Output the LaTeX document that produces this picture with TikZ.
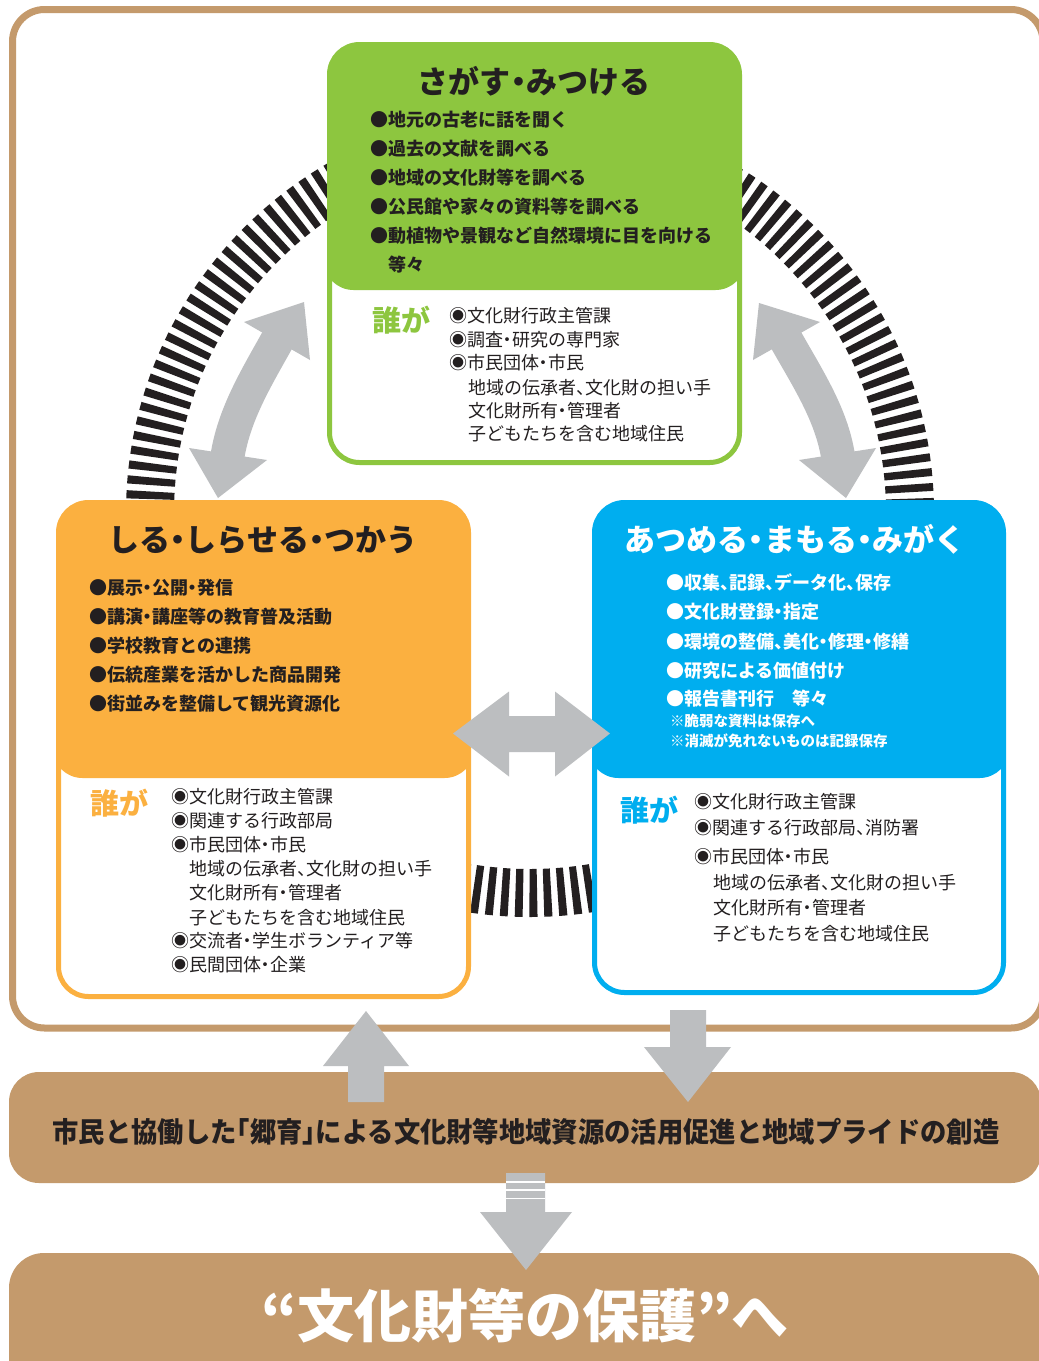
\documentclass[tikz,border=0pt]{standalone}
\usepackage{fontspec}
\newfontfamily\jp{Noto Sans CJK JP}
\newfontfamily\jph[RawFeature=+halt]{Noto Sans CJK JP}
\usetikzlibrary{calc}
\definecolor{cgreen}{HTML}{8DC63F}
\definecolor{corange}{HTML}{FBB040}
\definecolor{cblue}{HTML}{00AEEF}
\definecolor{ctan}{HTML}{C49A6C}
\definecolor{cgray}{HTML}{BCBEC0}
\definecolor{cink}{HTML}{231F20}
\begin{document}
\begin{tikzpicture}[x=1pt,y=-1pt,
  panel/.style={line width=5pt, rounded corners=30pt, fill=white, inner sep=0pt, outer sep=0pt},
  band/.style={fill=ctan, inner sep=0pt, outer sep=0pt},
  ttl/.style={font=\jph\bfseries\fontsize{31}{31}\selectfont, anchor=base, inner sep=0pt, text height=26pt, text depth=4pt},
  bul/.style={font=\jph\bfseries\fontsize{18}{18}\selectfont, anchor=base west, inner sep=0pt, text=cink, text height=15pt, text depth=3pt},
  lst/.style={font=\jph\fontsize{18}{18}\selectfont, anchor=base west, inner sep=0pt, text=cink, text height=15pt, text depth=3pt},
  who/.style={font=\jp\bfseries\fontsize{29}{29}\selectfont, anchor=base west, inner sep=0pt, text height=25pt, text depth=3pt},
  note/.style={font=\jph\bfseries\fontsize{14.5}{14.5}\selectfont, anchor=base west, inner sep=0pt, text=white, text height=12pt, text depth=2pt},
  garrow/.style={fill=cgray},
  gshaft/.style={draw=cgray, line width=34pt},
]
\useasboundingbox (0,0) rectangle (1039,1361);
\fill[white] (0,0) rectangle (1039,1361);

% outer frame
\draw[ctan, line width=7pt, rounded corners=32pt] (12.5,9.5) rectangle (1043,1028);

% dashed ring
\coordinate (O) at (530,513);
\draw[cink, line width=48pt, dash pattern=on 7.6pt off 6.445pt] (O) circle[radius=380];

% bands
\node[band, rounded corners=30pt, minimum width=1032pt, minimum height=111pt] (band1) at (525,1127.5) {};
\node[band, rounded corners=35pt, minimum width=1032pt, minimum height=160pt] (band2) at (525,1333) {};

% panels
\node[panel, draw=cgreen, minimum width=410pt, minimum height=418pt,
  path picture={\fill[cgreen] ([xshift=-6pt,yshift=6pt]path picture bounding box.north west) rectangle ([xshift=6pt,yshift=-245.5pt]path picture bounding box.north east);}] (search) at (534.5,253.5) {};
\node[panel, draw=corange, minimum width=410pt, minimum height=494pt,
  path picture={\fill[corange] ([xshift=-6pt,yshift=6pt]path picture bounding box.north west) rectangle ([xshift=6pt,yshift=-275.5pt]path picture bounding box.north east);}] (know) at (263.5,749.5) {};
\node[panel, draw=cblue, minimum width=409pt, minimum height=490pt,
  path picture={\fill[cblue] ([xshift=-6pt,yshift=6pt]path picture bounding box.north west) rectangle ([xshift=6pt,yshift=-275.5pt]path picture bounding box.north east);}] (keep) at (799,747.5) {};

% curved double arrow left
\coordinate (lt) at (304,302); \coordinate (lta) at (244,322); \coordinate (ltb) at (310,360);
\coordinate (lb) at (218,498); \coordinate (lba) at (189,448); \coordinate (lbb) at (267,460);
\fill[garrow] (lt) -- (lta) -- (ltb) -- cycle;
\fill[garrow] (lb) -- (lba) -- (lbb) -- cycle;
\draw[gshaft] (278,339) .. controls (257,376.7) and (234.3,413.5) .. (227.5,456);

% curved double arrow right
\coordinate (rt) at (759,303); \coordinate (rta) at (753,360); \coordinate (rtb) at (820,322);
\coordinate (rb) at (846,498); \coordinate (rba) at (799,460); \coordinate (rbb) at (876,448);
\fill[garrow] (rt) -- (rta) -- (rtb) -- cycle;
\fill[garrow] (rb) -- (rba) -- (rbb) -- cycle;
\draw[gshaft] (785.5,339) .. controls (806.6,376.7) and (831.2,413.5) .. (838,456);

% horizontal double arrow
\coordinate (hl) at (453,733.5); \coordinate (hr) at (610,733.5);
\fill[garrow] (hl) -- (509,691.5) -- (509,716) -- (555,716) -- (555,691.5) -- (hr)
  -- (555,776.5) -- (555,752) -- (509,752) -- (509,776.5) -- cycle;

% up arrow
\coordinate (ut) at (366,1011);
\fill[garrow] (ut) -- (409,1066) -- (384,1066) -- (384,1102) -- (348,1102) -- (348,1066) -- (323,1066) -- cycle;
% down arrow
\coordinate (dt) at (688,1102);
\fill[garrow] (670,1010) -- (706,1010) -- (706,1047) -- (731,1047) -- (dt) -- (644,1047) -- (670,1047) -- cycle;
% bottom arrow
\coordinate (bt) at (526,1270);
\fill[garrow] (506,1173) -- (545,1173) -- (545,1212) -- (572,1212) -- (bt) -- (480,1212) -- (506,1212) -- cycle;
\draw[white, line width=2pt] (506,1181.7) -- (545,1181.7);
\draw[white, line width=2pt] (506,1190) -- (545,1190);
\draw[white, line width=1.6pt] (506,1198.5) -- (545,1198.5);

% green panel text
\node[ttl, text=cink] (gt) at (534,93.5) {さがす・みつける};
\node[bul] (g1) at (370,126.8) {●地元の古老に話を聞く};
\node[bul] (g2) at (370,155.8) {●過去の文献を調べる};
\node[bul] (g3) at (370,184.8) {●地域の文化財等を調べる};
\node[bul] (g4) at (370,213.8) {●公民館や家々の資料等を調べる};
\node[bul] (g5) at (370,242.8) {●動植物や景観など自然環境に目を向ける};
\node[bul] (g6) at (388,271.8) {等々};
\node[who, text=cgreen] (gw) at (372,331) {誰が};
\node[lst] (gl1) at (449,322.8) {◉文化財行政主管課};
\node[lst] (gl2) at (449,346.8) {◉調査・研究の専門家};
\node[lst] (gl3) at (449,369.8) {◉市民団体・市民};
\node[lst] (gl4) at (468,394.8) {地域の伝承者、文化財の担い手};
\node[lst] (gl5) at (468,417.8) {文化財所有・管理者};
\node[lst] (gl6) at (468,440.8) {子どもたちを含む地域住民};

% orange panel text
\node[ttl, text=cink] (ot) at (263,551.5) {しる・しらせる・つかう};
\node[bul] (o1) at (89,594.8) {●展示・公開・発信};
\node[bul] (o2) at (89,623.8) {●講演・講座等の教育普及活動};
\node[bul] (o3) at (89,652.8) {●学校教育との連携};
\node[bul] (o4) at (89,681.8) {●伝統産業を活かした商品開発};
\node[bul] (o5) at (89,710.8) {●街並みを整備して観光資源化};
\node[who, text=corange] (ow) at (90,814) {誰が};
\node[lst] (ol1) at (171,803.8) {◉文化財行政主管課};
\node[lst] (ol2) at (171,827.8) {◉関連する行政部局};
\node[lst] (ol3) at (171,851.8) {◉市民団体・市民};
\node[lst] (ol4) at (189,875.8) {地域の伝承者、文化財の担い手};
\node[lst] (ol5) at (189,899.8) {文化財所有・管理者};
\node[lst] (ol6) at (189,924.8) {子どもたちを含む地域住民};
\node[lst] (ol7) at (171,947.8) {◉交流者・学生ボランティア等};
\node[lst] (ol8) at (171,971.8) {◉民間団体・企業};

% blue panel text
\node[ttl, text=white] (kt) at (795,551.5) {あつめる・まもる・みがく};
\node[bul, text=white] (k1) at (666,589.8) {●収集、記録、データ化、保存};
\node[bul, text=white] (k2) at (666,618.8) {●文化財登録・指定};
\node[bul, text=white] (k3) at (666,648.8) {●環境の整備、美化・修理・修繕};
\node[bul, text=white] (k4) at (666,677.8) {●研究による価値付け};
\node[bul, text=white] (k5) at (666,705.8) {●報告書刊行　等々};
\node[note] (kn1) at (670,726.7) {※脆弱な資料は保存へ};
\node[note] (kn2) at (670,746.7) {※消滅が免れないものは記録保存};
\node[who, text=cblue] (kw) at (620,821) {誰が};
\node[lst] (kl1) at (694,808.6) {◉文化財行政主管課};
\node[lst] (kl2) at (694,834.8) {◉関連する行政部局、消防署};
\node[lst] (kl3) at (694,863.8) {◉市民団体・市民};
\node[lst] (kl4) at (713,889.8) {地域の伝承者、文化財の担い手};
\node[lst] (kl5) at (713,914.8) {文化財所有・管理者};
\node[lst] (kl6) at (713,940.8) {子どもたちを含む地域住民};

% band texts
\node[font=\jph\bfseries\fontsize{28}{28}\selectfont, text=cink, anchor=base, inner sep=0pt] (b1t) at (526,1142.6)
  {\scalebox{0.94}[1]{市民と協働した「郷育」による文化財等地域資源の活用促進と地域プライドの創造}};
\node[font=\jp\bfseries\fontsize{57}{57}\selectfont, text=white, anchor=base, inner sep=0pt] (b2t) at (525,1337.7)
  {“文化財等の保護”へ};
\end{tikzpicture}
\end{document}
